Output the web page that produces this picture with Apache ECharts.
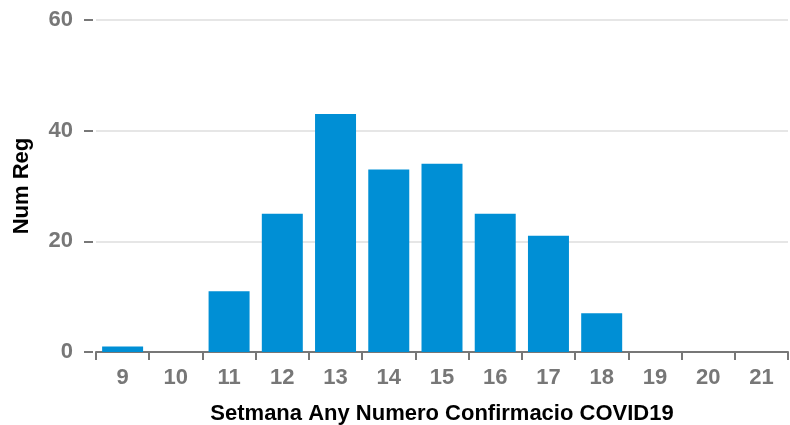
<!DOCTYPE html>
<html><head><meta charset="utf-8">
<script src="https://cdn.jsdelivr.net/npm/echarts@6/dist/echarts.min.js"></script>
<style>html,body{margin:0;padding:0;background:#fff}#c{width:790px;height:425px}</style>
</head><body><div id="c"></div>
<script>
const categories = ['9','10','11','12','13','14','15','16','17','18','19','20','21'];
const numReg = [1,0,11,25,43,33,34,25,21,7,0,0,0];
const yTicks = [0,20,40,60];

const chart = echarts.init(document.getElementById('c'), null, {renderer:'canvas'});
chart.setOption({
  animation:false,
  grid:{left:96,right:2,top:20,bottom:73,containLabel:false,outerBoundsMode:'none'},
  xAxis:{
    type:'category', data:categories,
    name:'Setmana Any Numero Confirmacio COVID19', nameLocation:'middle', nameGap:51,
    nameTextStyle:{color:'#000',fontSize:22,fontWeight:'bold',fontFamily:'Liberation Sans'},
    axisLine:{lineStyle:{color:'#777',width:2}},
    axisTick:{show:true,length:8,alignWithLabel:false,lineStyle:{color:'#777',width:2}},
    axisLabel:{color:'#777',fontSize:22,fontWeight:'bold',fontFamily:'Liberation Sans',margin:15}
  },
  yAxis:{
    type:'value', min:yTicks[0], max:yTicks[yTicks.length-1], interval:20, offset:3,
    name:'Num Reg', nameLocation:'middle', nameGap:60,
    nameTextStyle:{color:'#000',fontSize:22,fontWeight:'bold',fontFamily:'Liberation Sans'},
    axisLine:{show:false},
    axisTick:{show:true,length:9,lineStyle:{color:'#777',width:2}},
    axisLabel:{color:'#777',fontSize:22,fontWeight:'bold',fontFamily:'Liberation Sans',margin:20},
    splitLine:{lineStyle:{color:'#e6e6e6',width:2}}
  },
  series:[{
    type:'bar', data:numReg, barCategoryGap:'23%',
    itemStyle:{color:'#008fd5'}
  }]
});
</script></body></html>
